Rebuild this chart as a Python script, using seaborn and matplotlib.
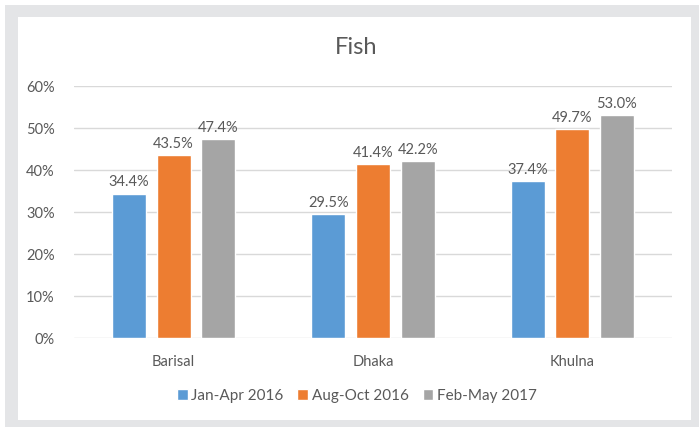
import matplotlib
matplotlib.use("Agg")
import matplotlib.pyplot as plt
import seaborn as sns
import pandas as pd
from matplotlib.patches import Rectangle

regions = ["Barisal", "Dhaka", "Khulna"]
periods = ["Jan-Apr 2016", "Aug-Oct 2016", "Feb-May 2017"]
jan_apr_2016 = [34.4, 29.5, 37.4]
aug_oct_2016 = [43.5, 41.4, 49.7]
feb_may_2017 = [47.4, 42.2, 53.0]
y_ticks = [0, 10, 20, 30, 40, 50, 60]
title = "Fish"

colors = ["#5B9BD5", "#ED7D31", "#A5A5A5"]
text_color = "#595959"

rows = []
for period, vals in zip(periods, [jan_apr_2016, aug_oct_2016, feb_may_2017]):
    for r, v in zip(regions, vals):
        rows.append({"Region": r, "Period": period, "Value": v})
df = pd.DataFrame(rows)

sns.set_theme(style="white")
plt.rcParams["font.family"] = ["Lato", "DejaVu Sans"]

W, H = 699, 428
fig = plt.figure(figsize=(W / 100, H / 100), dpi=100)
fig.patch.set_facecolor("white")

# frame
fig.patches.append(Rectangle((5 / W, 1 - 427 / H), (699 - 5) / W, (427 - 5) / H,
                             transform=fig.transFigure, facecolor="#E4E5E7",
                             edgecolor="none", zorder=-20))
fig.patches.append(Rectangle((18 / W, 1 - 420 / H), (691 - 18) / W, (420 - 17) / H,
                             transform=fig.transFigure, facecolor="white",
                             edgecolor="none", zorder=-19))

ax = fig.add_axes([74 / W, 1 - 338 / H, 598 / W, 252 / H])
ax.set_facecolor("none")

sns.barplot(data=df, x="Region", y="Value", hue="Period", order=regions,
            hue_order=periods, palette=colors, width=0.672, gap=0.24,
            saturation=1, ax=ax, legend=True)

for cont in ax.containers:
    ax.bar_label(cont, labels=[f"{v:.1f}%" for v in cont.datavalues],
                 padding=3, fontsize=10.5, color=text_color)

ax.set_ylim(0, 60)
ax.set_xlim(-0.5, 2.5)
ax.set_yticks(y_ticks)
ax.set_yticklabels([f"{t}%" for t in y_ticks])
ax.yaxis.grid(True, color="#D9D9D9", linewidth=1)
ax.set_axisbelow(True)
for s in ax.spines.values():
    s.set_visible(False)
ax.tick_params(axis="y", length=0, pad=14, labelsize=10.5, labelcolor=text_color)
ax.tick_params(axis="x", length=0, pad=12, labelsize=10.5, labelcolor=text_color)
ax.set_xlabel("")
ax.set_ylabel("")

fig.text(356 / W, 1 - 47 / H, title, ha="center", va="center",
         fontsize=17, color=text_color)

handles, labels = ax.get_legend_handles_labels()
ax.get_legend().remove()
fig.legend(handles, labels, loc="center", bbox_to_anchor=(357 / W, 1 - 396 / H),
           ncol=3, frameon=False, fontsize=11, labelcolor=text_color,
           handlelength=0.7, handleheight=0.7, handletextpad=0.25,
           columnspacing=0.9)

fig.savefig("out.png", dpi=100)
